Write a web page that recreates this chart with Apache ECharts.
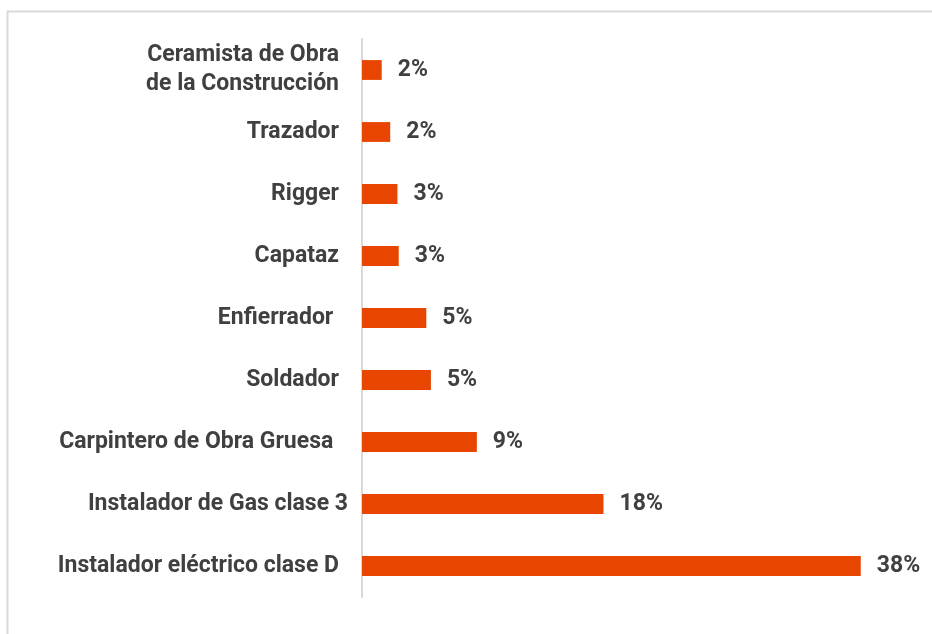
<!DOCTYPE html>
<html>
<head>
<meta charset="utf-8">
<script src="https://cdn.jsdelivr.net/npm/echarts@6/dist/echarts.min.js"></script>
<style>
html, body { margin: 0; padding: 0; background: #fff; }
#main { width: 932px; height: 634px; }
</style>
</head>
<body>
<div id="main"></div>
<script>
// top to bottom order as in the picture
var oficios = [
    'Ceramista de Obra\nde la Construcción',
    'Trazador',
    'Rigger',
    'Capataz',
    'Enfierrador ',
    'Soldador',
    'Carpintero de Obra Gruesa ',
    'Instalador de Gas clase 3',
    'Instalador eléctrico clase D'
];
var porcentaje = [1.5, 2.15, 2.7, 2.8, 4.9, 5.25, 8.75, 18.4, 38];
var etiquetas = ['2%', '2%', '3%', '3%', '5%', '5%', '9%', '18%', '38%'];

var textColor = '#404040';

var option = {
    animation: false,
    textStyle: { fontFamily: 'Roboto' },
    graphic: [{
        type: 'rect',
        left: 5,
        top: 9,
        shape: { width: 1000, height: 700 },
        style: { fill: 'none', stroke: '#d9d9d9', lineWidth: 2 },
        silent: true
    }],
    grid: {
        left: 362,
        top: 39,
        height: 558,
        width: 525
    },
    xAxis: {
        type: 'value',
        min: 0,
        max: 40,
        show: false
    },
    yAxis: {
        type: 'category',
        inverse: true,
        data: oficios.map(function (o) {
            // the gas label sits a little further right in the original
            return o === 'Instalador de Gas clase 3'
                ? { value: o, textStyle: { padding: [0, -9, 0, 0] } }
                : o;
        }),
        axisTick: { show: false },
        axisLine: { show: true, lineStyle: { color: '#d9d9d9', width: 2 } },
        axisLabel: {
            color: textColor,
            fontSize: 23,
            fontWeight: 'bold',
            fontFamily: 'Roboto',
            margin: 23,
            lineHeight: 29
        }
    },
    series: [{
        type: 'bar',
        data: porcentaje,
        barCategoryGap: '68%',
        itemStyle: { color: '#E84600' },
        label: {
            show: true,
            position: 'right',
            distance: 16,
            color: textColor,
            fontSize: 23,
            fontWeight: 'bold',
            fontFamily: 'Roboto',
            formatter: function (p) { return etiquetas[p.dataIndex]; }
        }
    }]
};

var myChart = echarts.init(document.getElementById('main'));
myChart.setOption(option);
</script>
</body>
</html>
